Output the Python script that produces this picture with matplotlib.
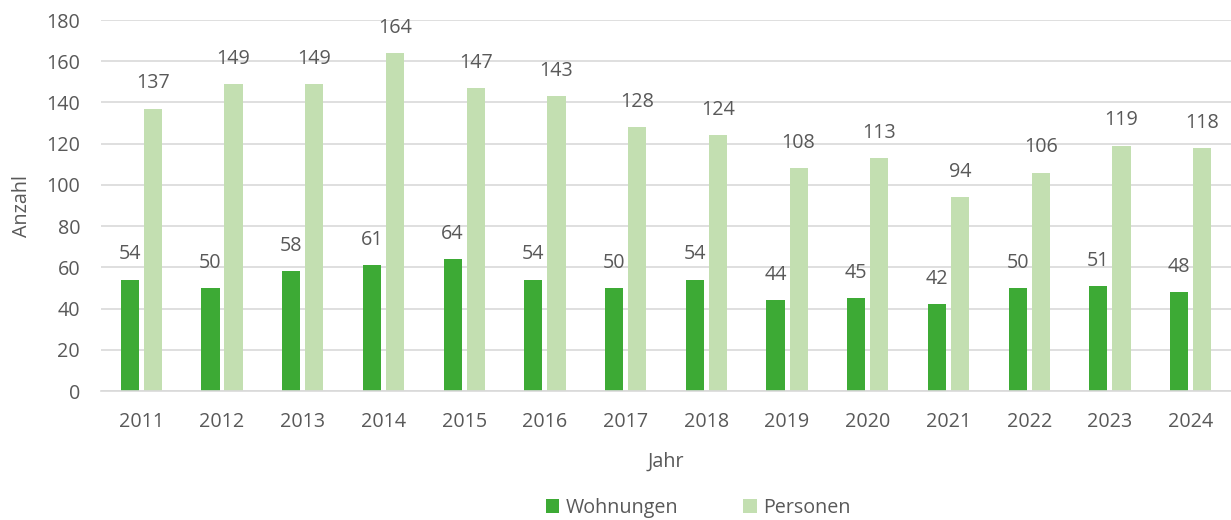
import numpy as np
import matplotlib.pyplot as plt

jahre = ['2011', '2012', '2013', '2014', '2015', '2016', '2017', '2018',
         '2019', '2020', '2021', '2022', '2023', '2024']
wohnungen = [54, 50, 58, 61, 64, 54, 50, 54, 44, 45, 42, 50, 51, 48]
personen = [137, 149, 149, 164, 147, 143, 128, 124, 108, 113, 94, 106, 119, 118]

grau = '#595959'
plt.rcParams['font.family'] = ['Open Sans', 'DejaVu Sans']
fs = 14.2

fig = plt.figure(figsize=(12.31, 5.2), dpi=100)
ax = fig.add_axes([0.082, 0.248, 0.918, 0.7135])

x = np.arange(len(jahre))
w = 0.225
b1 = ax.bar(x - 0.143, wohnungen, w, color='#3DAA35', label='Wohnungen')
b2 = ax.bar(x + 0.143, personen, w, color='#C3DFB1', label='Personen')

for bars in (b1, b2):
    for r in bars:
        ax.annotate(str(int(r.get_height())), (r.get_x() + r.get_width() / 2, r.get_height()),
                    xytext=(0, 11), textcoords='offset points', ha='center', va='bottom',
                    color=grau, fontsize=fs)

ax.set_xlim(-0.5, len(jahre) - 0.5)
ax.set_ylim(0, 180)
ax.set_yticks(range(0, 181, 20))
ax.set_xticks(x)
ax.set_xticklabels(jahre)
ax.yaxis.grid(True, color='#d9d9d9', linewidth=1.2)
ax.set_axisbelow(True)
for s in ['top', 'right', 'left']:
    ax.spines[s].set_visible(False)
ax.spines['bottom'].set_color('#d9d9d9')
ax.spines['bottom'].set_linewidth(1.2)
ax.tick_params(length=0, colors=grau, labelsize=fs)
ax.tick_params(axis='x', pad=15)
ax.tick_params(axis='y', pad=15)
ax.set_xlabel('Jahr', color=grau, fontsize=fs, labelpad=14)
ax.set_ylabel('Anzahl', color=grau, fontsize=fs, labelpad=10)

fig.legend(handles=[b1, b2], loc='lower center', bbox_to_anchor=(0.567, -0.03), ncol=2,
           frameon=False, handlelength=0.7, handleheight=0.7, columnspacing=3.3,
           handletextpad=0.3, labelcolor=grau, fontsize=fs)

fig.savefig('out.png', dpi=100)
